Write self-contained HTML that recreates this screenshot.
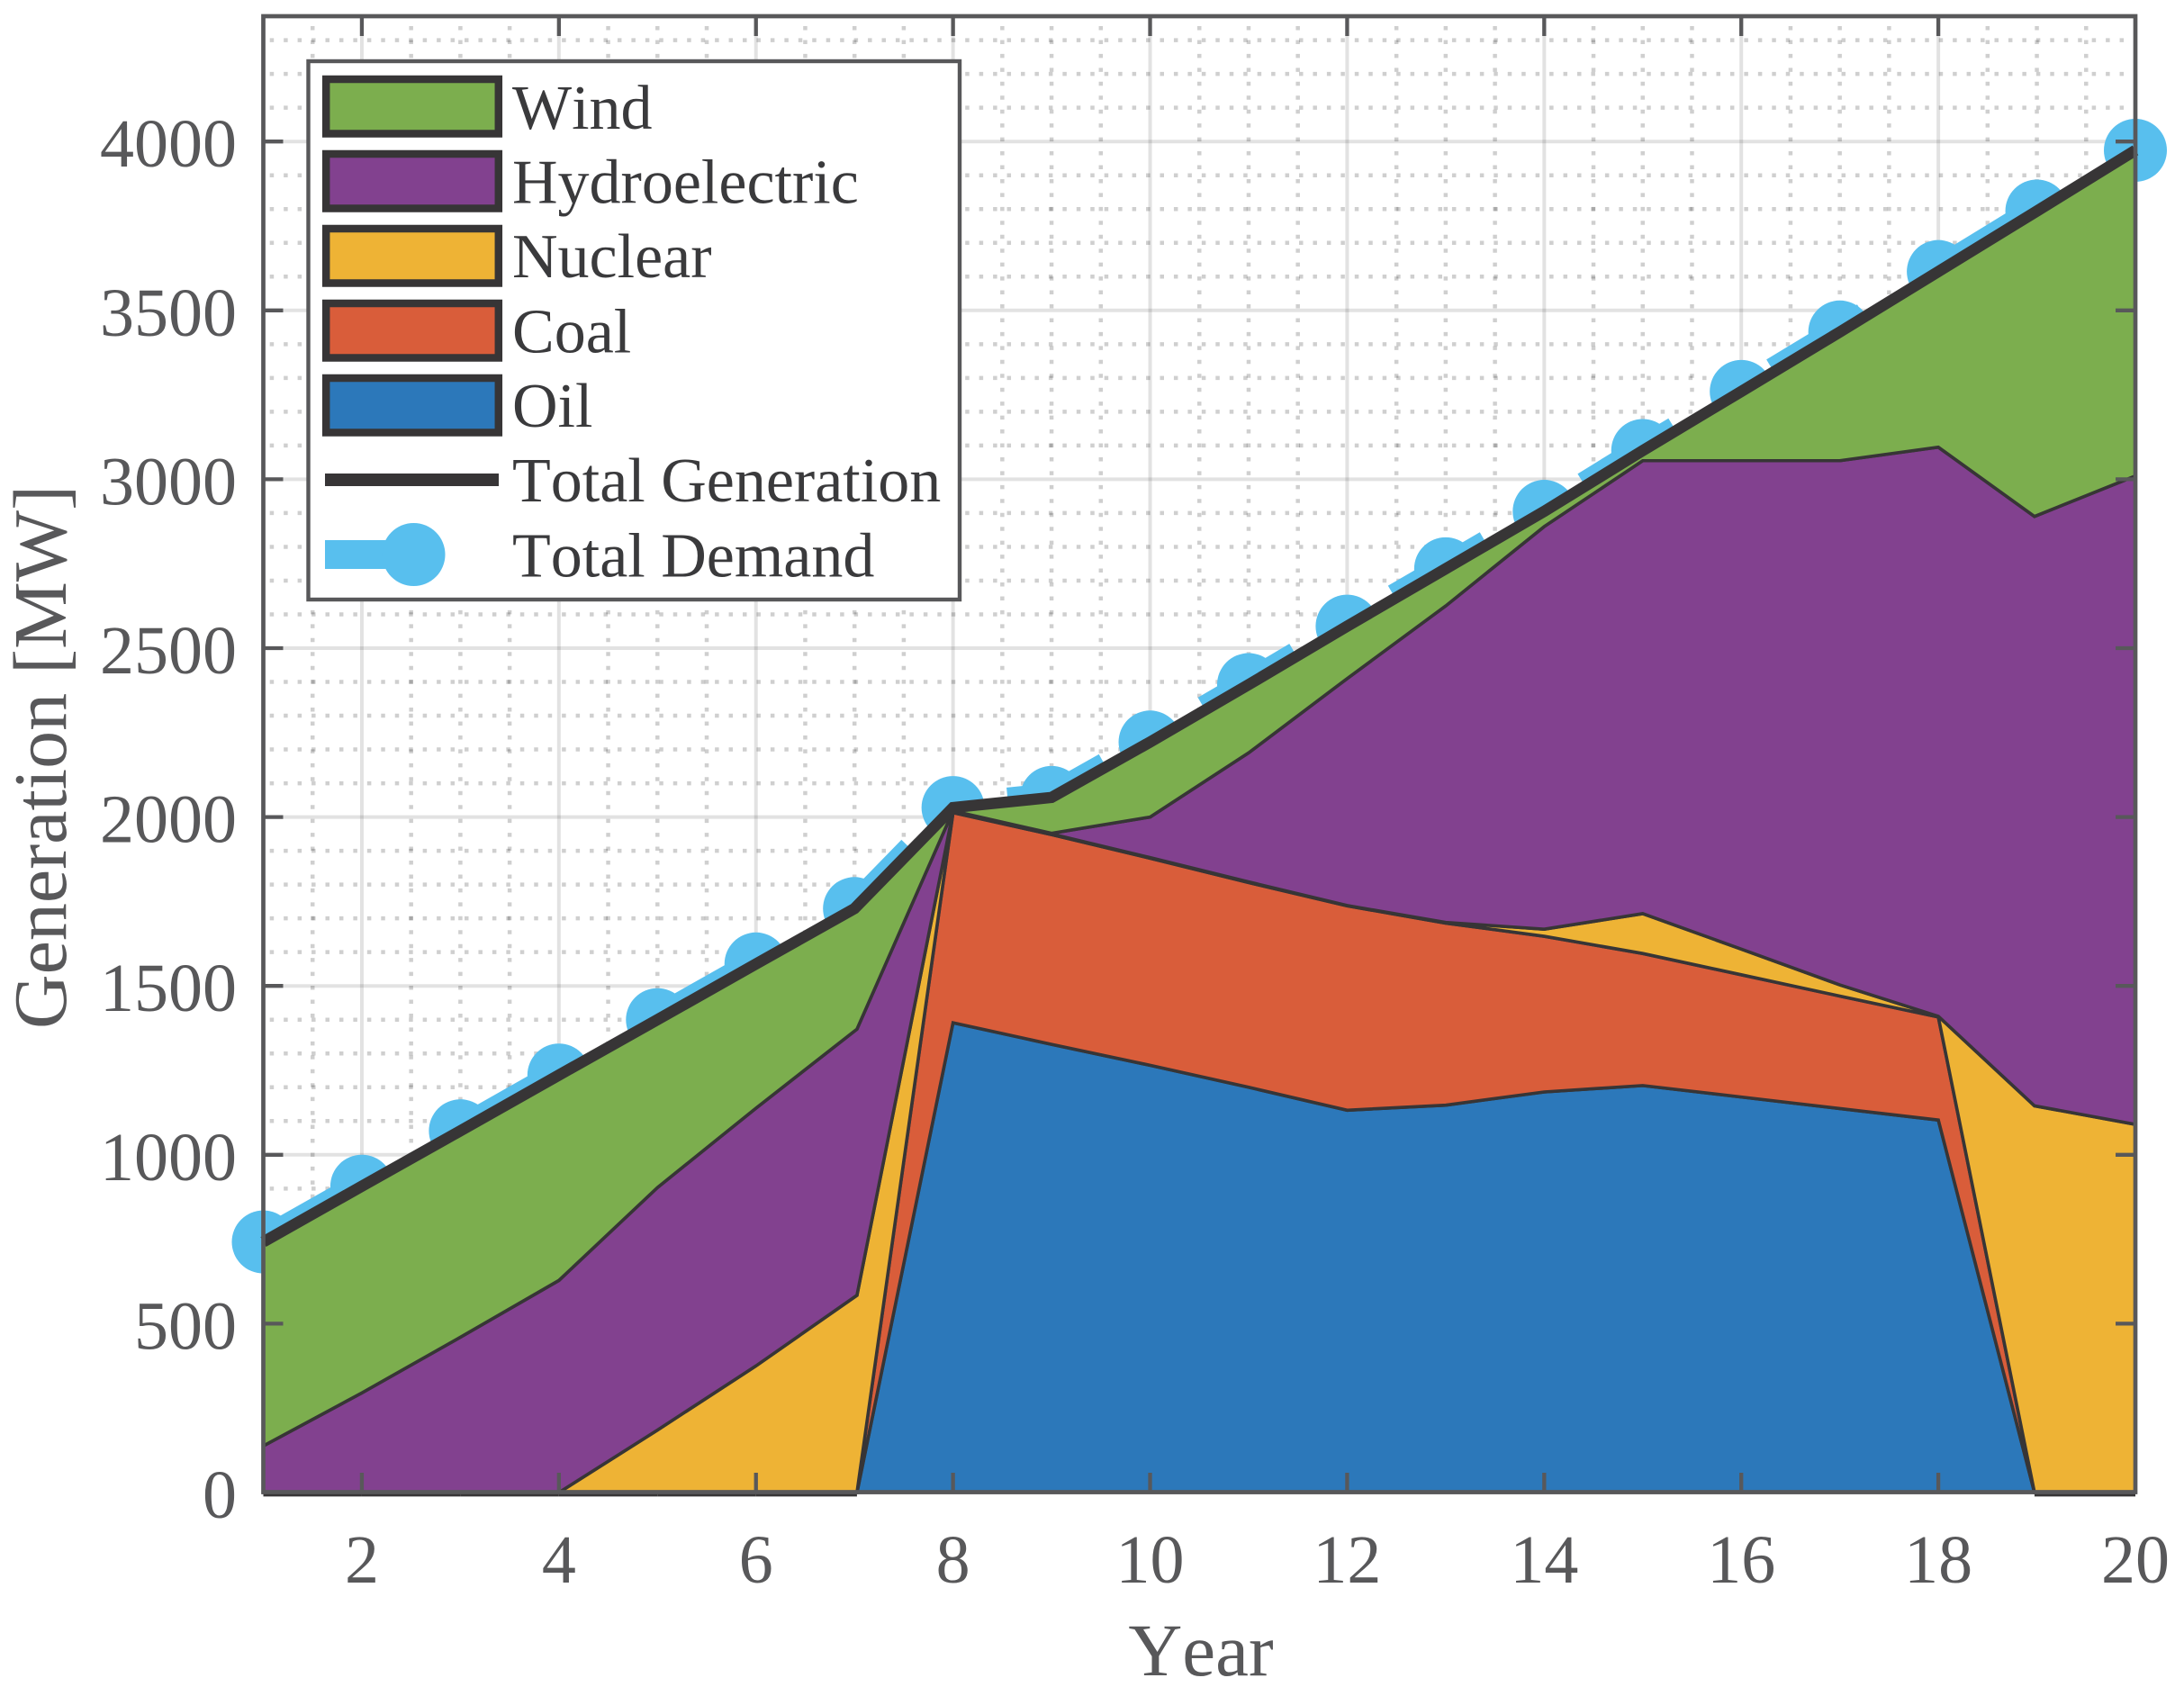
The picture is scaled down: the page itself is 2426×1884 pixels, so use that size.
<!DOCTYPE html>
<html lang="en">
<head>
<meta charset="utf-8">
<title>Generation by source</title>
<style>
  html, body { margin: 0; padding: 0; background: #ffffff; }
  svg { display: block; }
  text { font-family: "Liberation Serif", "Times New Roman", serif; font-kerning: none; }
</style>
</head>
<body>
<svg id="chart" xmlns="http://www.w3.org/2000/svg" width="2426" height="1884" viewBox="0 0 2426 1884">
  <rect x="0" y="0" width="2426" height="1884" fill="#ffffff"/>
  <g id="grid-layer"></g>
  <g id="demand-layer"></g>
  <g id="area-layer"></g>
  <g id="generation-layer"></g>
  <g id="axis-layer"></g>

  <text x="1334" y="1861" font-size="83" fill="#58585a" text-anchor="middle">Year</text>
  <text transform="translate(73 841) rotate(-90)" font-size="84" fill="#58585a" text-anchor="middle">Generation [MW]</text>

  <g>
    <rect x="342.5" y="68" width="723.5" height="598" fill="#ffffff" stroke="#58585a" stroke-width="4.4"/>

    <g>
      <rect x="362.2" y="88" width="191.6" height="60.5" fill="#7cae4e" stroke="#373536" stroke-width="8.5"/>
      <text x="569" y="143" font-size="70" fill="#3a3a3c">Wind</text>
    </g>
    <g>
      <rect x="362.2" y="171" width="191.6" height="60.5" fill="#82418f" stroke="#373536" stroke-width="8.5"/>
      <text x="569" y="225.5" font-size="70" fill="#3a3a3c">Hydroelectric</text>
    </g>
    <g>
      <rect x="362.2" y="254" width="191.6" height="60.5" fill="#eeb335" stroke="#373536" stroke-width="8.5"/>
      <text x="569" y="308" font-size="70" fill="#3a3a3c">Nuclear</text>
    </g>
    <g>
      <rect x="362.2" y="337" width="191.6" height="60.5" fill="#d95d3a" stroke="#373536" stroke-width="8.5"/>
      <text x="569" y="391.5" font-size="70" fill="#3a3a3c">Coal</text>
    </g>
    <g>
      <rect x="362.2" y="420" width="191.6" height="60.5" fill="#2c78ba" stroke="#373536" stroke-width="8.5"/>
      <text x="569" y="474" font-size="70" fill="#3a3a3c">Oil</text>
    </g>
    <g>
      <line x1="361" y1="533" x2="554" y2="533" stroke="#373536" stroke-width="14"/>
      <text x="569" y="557" font-size="70" fill="#3a3a3c">Total Generation</text>
    </g>
    <g>
      <rect x="361" y="600" width="99" height="32" fill="#58bfee"/>
      <circle cx="459.5" cy="616" r="35" fill="#58bfee"/>
      <text x="569" y="640.5" font-size="70" fill="#3a3a3c">Total Demand</text>
    </g>
  </g>
</svg>

<script>
// ---- chart data (MW per year) ----
const years = [1, 2, 3, 4, 5, 6, 7, 8, 9, 10, 11, 12, 13, 14, 15, 16, 17, 18, 19, 20];
const areaYears = [1, 2, 3, 4, 5, 6, 7.025, 8, 9, 10, 11, 12, 13, 14, 15, 16, 17, 18, 18.976, 20];
const oil = [0, 0, 0, 0, 0, 0, 0, 1391, 1327, 1265, 1200, 1132, 1147, 1186, 1205, 1171, 1137, 1103, 0, 0];
const coal = [0, 0, 0, 0, 0, 0, 0, 622, 621, 613, 606, 605, 539, 461, 391, 362, 333, 305, 0, 0];
const nuclear = [0, 0, 0, 0, 185, 375, 584, 2, 2, 2, 2, 1, 2, 21, 118, 76, 33, 2, 1145, 1090];
const hydroelectric = [138, 295, 460, 628, 718, 763, 788, 3, 2, 120, 382, 672, 937, 1192, 1341, 1446, 1552, 1685, 1745, 1920];
const wind = [604, 612, 611, 608, 497, 427, 357, 10, 106, 222, 202, 155, 110, 45, 30, 205, 381, 520, 904, 964];
const totalDemand = [742, 907, 1071, 1236, 1400, 1565, 1729, 2028, 2058, 2222, 2392, 2565, 2735, 2905, 3085, 3260, 3436, 3615, 3794, 3974];
const xTickLabels = [2, 4, 6, 8, 10, 12, 14, 16, 18, 20];
const yTickLabels = [0, 500, 1000, 1500, 2000, 2500, 3000, 3500, 4000];
const xMinorTicks = [1.5, 2.5, 3, 3.5, 4.5, 5, 5.5, 6.5, 7, 7.5, 8.5, 9, 9.5, 10.5, 11, 11.5, 12.5, 13, 13.5, 14.5, 15, 15.5, 16.5, 17, 17.5, 18.5, 19, 19.5];
const yMinorTicks = [100, 200, 300, 400, 600, 700, 800, 900, 1100, 1200, 1300, 1400, 1600, 1700, 1800, 1900, 2100, 2200, 2300, 2400, 2600, 2700, 2800, 2900, 3100, 3200, 3300, 3400, 3600, 3700, 3800, 3900, 4100, 4200, 4300];

// ---- axis functions ----
const xDomain = [1, 20];
const yDomain = [0, 4371];
const plotLeft = 292.5, plotRight = 2372, plotTop = 18, plotBottom = 1658;
function xScale(v) { return plotLeft + (v - xDomain[0]) / (xDomain[1] - xDomain[0]) * (plotRight - plotLeft); }
function yScale(v) { return plotBottom - (v - yDomain[0]) / (yDomain[1] - yDomain[0]) * (plotBottom - plotTop); }

const NS = 'http://www.w3.org/2000/svg';
function make(tag, parent, attrs) {
  const el = document.createElementNS(NS, tag);
  for (const k in attrs) el.setAttribute(k, attrs[k]);
  parent.appendChild(el);
  return el;
}
function pts(xs, ys) { return xs.map((x, i) => xScale(x).toFixed(2) + ',' + yScale(ys[i]).toFixed(2)); }

// ---- grid ----
const gridLayer = document.getElementById('grid-layer');
xMinorTicks.forEach(function (v) {
  const el = make('line', gridLayer, { x1: xScale(v), x2: xScale(v), y1: 29, y2: plotBottom, stroke: '#000', 'stroke-opacity': 0.19, 'stroke-width': 4.5, 'stroke-dasharray': '4.5 10.95' });
  
  
});
yMinorTicks.forEach(function (v) {
  const el = make('line', gridLayer, { x1: 299.7, x2: plotRight, y1: yScale(v), y2: yScale(v), stroke: '#000', 'stroke-opacity': 0.19, 'stroke-width': 4.5, 'stroke-dasharray': '4.5 10.95' });
  
  
});
xTickLabels.forEach(function (v) {
  if (v === xDomain[1]) return;
  const el = make('line', gridLayer, { x1: xScale(v), x2: xScale(v), y1: plotTop, y2: plotBottom, stroke: '#000', 'stroke-opacity': 0.115, 'stroke-width': 4 });
  
  
});
yTickLabels.forEach(function (v) {
  if (v === 0) return;
  const el = make('line', gridLayer, { x1: plotLeft, x2: plotRight, y1: yScale(v), y2: yScale(v), stroke: '#000', 'stroke-opacity': 0.115, 'stroke-width': 4 });
  
  
});

// ---- total demand (under the areas) ----
const demandLayer = document.getElementById('demand-layer');
const demandLine = make('polyline', demandLayer, { points: pts(years, totalDemand).join(' '), fill: 'none', stroke: '#58bfee', 'stroke-width': 32, 'stroke-dasharray': '118 127', 'stroke-dashoffset': 8, 'stroke-linejoin': 'miter' });


years.forEach(function (yr, i) {
  const c = make('circle', demandLayer, { cx: xScale(yr), cy: yScale(totalDemand[i]), r: 35, fill: '#58bfee' });
  
  
});

// ---- stacked areas ----
const areaLayer = document.getElementById('area-layer');
const stackSeries = [
  { key: 'oil', values: oil, color: '#2c78ba' },
  { key: 'coal', values: coal, color: '#d95d3a' },
  { key: 'nuclear', values: nuclear, color: '#eeb335' },
  { key: 'hydroelectric', values: hydroelectric, color: '#82418f' },
  { key: 'wind', values: wind, color: '#7cae4e' }
];
let lower = years.map(function () { return 0; });
stackSeries.forEach(function (s) {
  const upper = lower.map(function (v, i) { return v + s.values[i]; });
  const top = pts(areaYears, upper);
  const bottom = pts(areaYears, lower).reverse();
  const poly = make('polygon', areaLayer, { points: top.concat(bottom).join(' '), fill: s.color, stroke: '#373536', 'stroke-width': 3.6, 'stroke-linejoin': 'miter', 'stroke-miterlimit': 3 });
  
  
  lower = upper;
});

// ---- total generation = top of the stack ----
const generationLayer = document.getElementById('generation-layer');
const genLine = make('polyline', generationLayer, { points: pts(years, lower).join(' '), fill: 'none', stroke: '#373536', 'stroke-width': 12.5, 'stroke-linejoin': 'miter' });



// ---- axes, ticks, tick labels ----
const axisLayer = document.getElementById('axis-layer');
const tickLen = 22;
// dark edge peeking under the x axis where oil and coal are zero
areaYears.forEach(function (yr, i) {
  if (i === areaYears.length - 1) return;
  if (oil[i] + coal[i] !== 0 || oil[i + 1] + coal[i + 1] !== 0) return;
  const edge = make('line', axisLayer, { x1: xScale(yr), x2: xScale(areaYears[i + 1]), y1: yScale(0) + 3, y2: yScale(0) + 3, stroke: '#373536', 'stroke-width': 2.8 });
  
  
});
xTickLabels.forEach(function (v) {
  const x = xScale(v);
  if (v !== xDomain[1]) {
    const a = make('line', axisLayer, { x1: x, x2: x, y1: plotBottom, y2: plotBottom - tickLen, stroke: '#58585a', 'stroke-width': 4.3 });
    
    
    const b = make('line', axisLayer, { x1: x, x2: x, y1: plotTop, y2: plotTop + tickLen, stroke: '#58585a', 'stroke-width': 4.3 });
    
    
  }
  const t = make('text', axisLayer, { x: x, y: 1758, 'font-size': 76, fill: '#58585a', 'text-anchor': 'middle' });
  
  
  t.textContent = String(v);
});
yTickLabels.forEach(function (v) {
  const y = yScale(v);
  if (v !== 0) {
    const a = make('line', axisLayer, { x1: plotLeft, x2: plotLeft + tickLen, y1: y, y2: y, stroke: '#58585a', 'stroke-width': 4.3 });
    
    
    const b = make('line', axisLayer, { x1: plotRight, x2: plotRight - tickLen, y1: y, y2: y, stroke: '#58585a', 'stroke-width': 4.3 });
    
    
  }
  const t = make('text', axisLayer, { x: 263, y: y + 28, 'font-size': 76, fill: '#58585a', 'text-anchor': 'end' });
  
  
  t.textContent = String(v);
});
const frame = make('rect', axisLayer, { x: plotLeft, y: plotTop, width: plotRight - plotLeft, height: plotBottom - 0.5 - plotTop, fill: 'none', stroke: '#58585a', 'stroke-width': 4.7 });


</script>
</body>
</html>
